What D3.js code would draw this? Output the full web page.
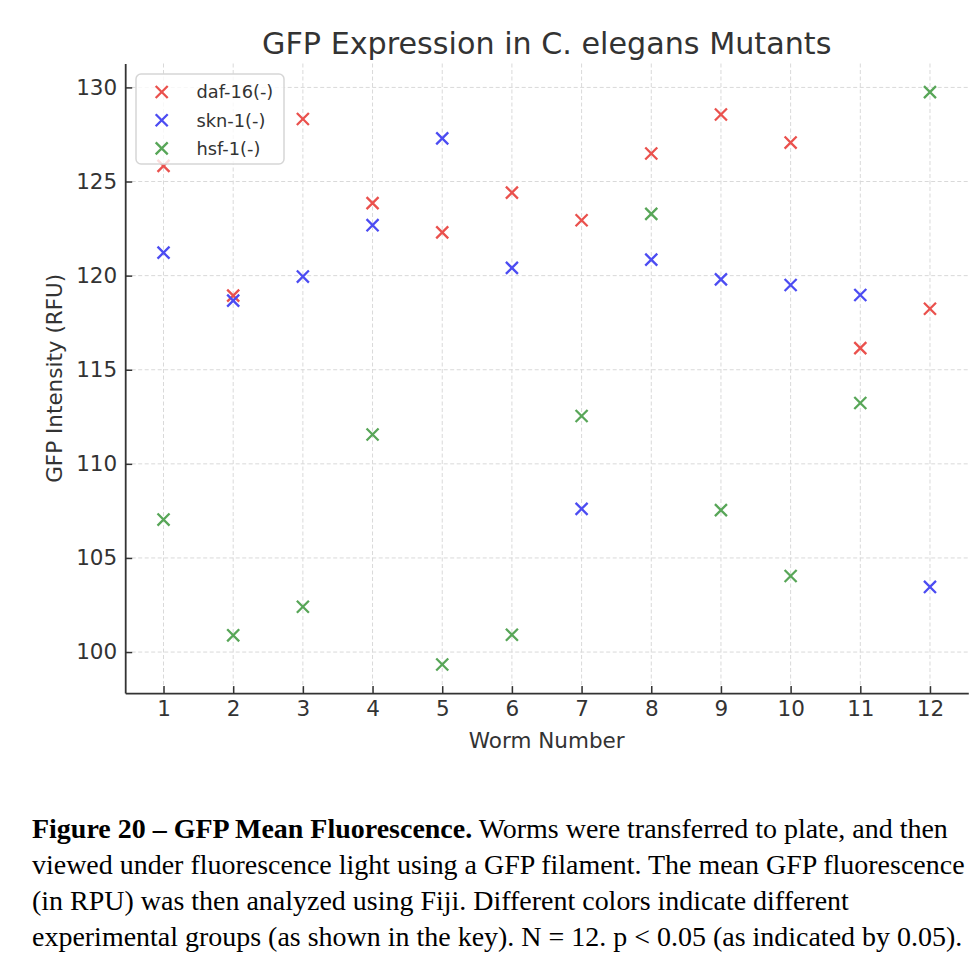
<!DOCTYPE html>
<html>
<head>
<meta charset="utf-8">
<script src="https://cdn.jsdelivr.net/npm/d3@7"></script>
<style>
  html, body { margin: 0; padding: 0; background: #fff; }
  svg { display: block; }
</style>
</head>
<body>
<svg id="chart" width="978" height="968"></svg>
<script>
// ---- data ----
const worms = [1, 2, 3, 4, 5, 6, 7, 8, 9, 10, 11, 12];
const daf16 = [125.83, 118.94, 128.32, 123.85, 122.30, 124.41, 122.94, 126.49, 128.56, 127.07, 116.15, 118.24];
const skn1  = [121.22, 118.67, 119.95, 122.68, 127.29, 120.41, 107.61, 120.85, 119.80, 119.50, 118.97, 103.46];
const hsf1  = [107.04, 100.89, 102.41, 111.56, 99.34, 100.92, 112.54, 123.28, 107.54, 104.04, 113.23, 129.75];
const seriesNames = ["daf-16(-)", "skn-1(-)", "hsf-1(-)"];
const yTicks = [100, 105, 110, 115, 120, 125, 130];
const titleText = "GFP Expression in C. elegans Mutants";
const xLabel = "Worm Number";
const yLabel = "GFP Intensity (RFU)";
const captionBold = "Figure 20 \u2013 GFP Mean Fluorescence.";
const captionLines = [
  " Worms were transferred to plate, and then",
  "viewed under fluorescence light using a GFP filament. The mean GFP fluorescence",
  "(in RPU) was then analyzed using Fiji. Different colors indicate different",
  "experimental groups (as shown in the key). N = 12. p < 0.05 (as indicated by 0.05)."
];

(function () {
const colors = ["#ea514d", "#4c4cf2", "#58a658"];
const series = [daf16, skn1, hsf1];

const svg = d3.select("#chart");
const sans = "DejaVu Sans, sans-serif";
const textCol = "#333333";

// scales (matplotlib style 5% margins)
const xDom = [1 - 0.55, 12 + 0.55];
const allVals = series.flat();
const ext = d3.extent(allVals);
const pad = (ext[1] - ext[0]) * 0.05;
const x = d3.scaleLinear().domain(xDom).range([125.2, 968.3]);
const y = d3.scaleLinear().domain([ext[0] - pad, ext[1] + pad]).range([693.1, 63.5]);

const pLeft = x.range()[0], pRight = x.range()[1];
const pTop = y.range()[1], pBottom = y.range()[0];

// grid
const grid = svg.append("g");
grid.selectAll("line.gx").data(worms).join("line").attr("class", "gx")
  .attr("x1", d => x(d)).attr("x2", d => x(d))
  .attr("y1", pTop).attr("y2", pBottom)
  .attr("stroke", "#d9d9d9").attr("stroke-width", 1).attr("stroke-dasharray", "4,2.5");
grid.selectAll("line.gy").data(yTicks).join("line").attr("class", "gy")
  .attr("x1", pLeft).attr("x2", pRight)
  .attr("y1", d => y(d)).attr("y2", d => y(d))
  .attr("stroke", "#d9d9d9").attr("stroke-width", 1).attr("stroke-dasharray", "4,2.5");

// axes
const xAxis = d3.axisBottom(x).tickValues(worms).tickFormat(d3.format("d")).tickSizeInner(-7).tickSizeOuter(0).tickPadding(8);
const yAxis = d3.axisLeft(y).tickValues(yTicks).tickFormat(d3.format("d")).tickSizeInner(-7).tickSizeOuter(0).tickPadding(8);

const gx = svg.append("g").attr("transform", `translate(0,${pBottom})`).call(xAxis);
const gy = svg.append("g").attr("transform", `translate(${pLeft},0)`).call(yAxis);
[gx, gy].forEach(g => {
  g.select(".domain").attr("stroke", "#333").attr("stroke-width", 1.8);
  g.selectAll(".tick line").attr("stroke", "#333").attr("stroke-width", 1.5);
  g.selectAll(".tick text").attr("fill", textCol).style("font-family", sans).style("font-size", "21.5px");
});

// points
const sym = d3.symbol().type(d3.symbolX).size(96);
series.forEach((vals, si) => {
  svg.append("g").selectAll("path").data(vals).join("path")
    .attr("d", sym)
    .attr("transform", (d, i) => `translate(${x(worms[i])},${y(d)})`)
    .attr("fill", "none").attr("stroke", colors[si]).attr("stroke-width", 2.3);
});

// title & labels
svg.append("text").attr("x", (pLeft + pRight) / 2).attr("y", 54)
  .attr("text-anchor", "middle").attr("fill", textCol)
  .style("font-family", sans).style("font-size", "30.2px").text(titleText);
svg.append("text").attr("x", (pLeft + pRight) / 2).attr("y", 748)
  .attr("text-anchor", "middle").attr("fill", textCol)
  .style("font-family", sans).style("font-size", "21.5px").text(xLabel);
svg.append("text").attr("transform", `translate(62,${(pTop + pBottom) / 2}) rotate(-90)`)
  .attr("text-anchor", "middle").attr("fill", textCol)
  .style("font-family", sans).style("font-size", "21.5px").text(yLabel);

// legend
const lg = svg.append("g");
lg.append("rect").attr("x", 136).attr("y", 74).attr("width", 148).attr("height", 90)
  .attr("rx", 5).attr("fill", "#fff").attr("fill-opacity", 0.8)
  .attr("stroke", "#d6d6d6").attr("stroke-width", 1.5);
seriesNames.forEach((nm, i) => {
  const cy = 92 + i * 28.2;
  lg.append("path").attr("d", sym).attr("transform", `translate(161.7,${cy})`)
    .attr("fill", "none").attr("stroke", colors[i]).attr("stroke-width", 2.3);
  lg.append("text").attr("x", 196.5).attr("y", cy + 6.3).attr("fill", textCol)
    .style("font-family", sans).style("font-size", "17.8px").text(nm);
});

// caption
const serif = "Liberation Serif, Times New Roman, serif";
const capG = svg.append("g");
const t1 = capG.append("text").attr("x", 32).attr("y", 838)
  .style("font-family", serif).style("font-size", "24px").attr("fill", "#000");
t1.append("tspan").style("font-weight", "bold").text(captionBold);
t1.append("tspan").text(captionLines[0]);
const w1 = t1.node().getComputedTextLength();
const fs = 24 * 916 / w1;
t1.style("font-size", fs + "px");
captionLines.slice(1).forEach((ln, i) => {
  capG.append("text").attr("x", 32).attr("y", 838 + (i + 1) * 36)
    .style("font-family", serif).style("font-size", fs + "px").attr("fill", "#000").text(ln);
});
})();
</script>
</body>
</html>
